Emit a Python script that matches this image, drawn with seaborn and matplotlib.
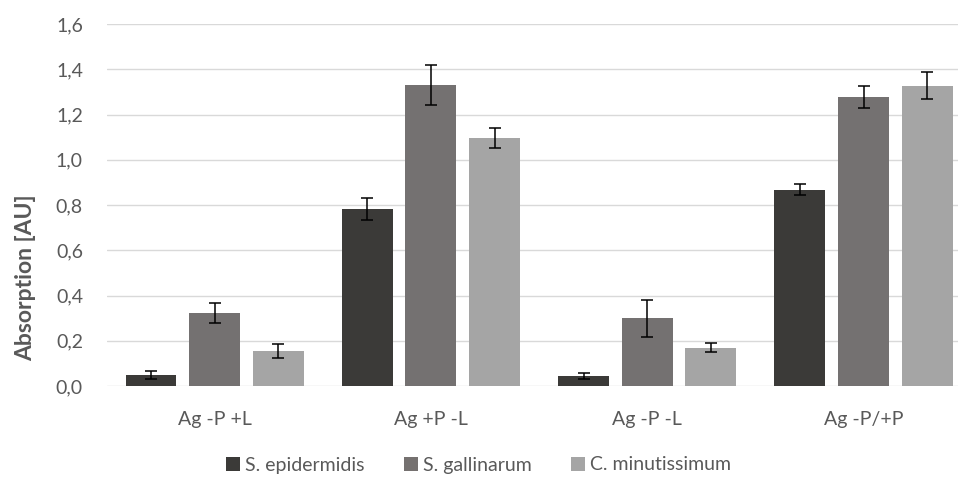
import matplotlib
matplotlib.use("Agg")
import matplotlib.pyplot as plt
from matplotlib.patches import Patch
import seaborn as sns
import pandas as pd
import numpy as np

# Conditions on the x axis
groups = ["Ag -P +L", "Ag +P -L", "Ag -P -L", "Ag -P/+P"]
species = ["S. epidermidis", "S. gallinarum", "C. minutissimum"]

# Mean absorption per strain and condition
epidermidis = [0.049, 0.782, 0.043, 0.868]
gallinarum = [0.323, 1.331, 0.299, 1.277]
minutissimum = [0.155, 1.096, 0.169, 1.328]

# Standard deviations
epidermidis_err = [0.017, 0.049, 0.014, 0.023]
gallinarum_err = [0.045, 0.087, 0.081, 0.049]
minutissimum_err = [0.030, 0.043, 0.019, 0.061]

yticks = [0.0, 0.2, 0.4, 0.6, 0.8, 1.0, 1.2, 1.4, 1.6]
colors = ["#3B3A38", "#757170", "#A5A5A5"]

means = [epidermidis, gallinarum, minutissimum]
errs = [epidermidis_err, gallinarum_err, minutissimum_err]

df = pd.DataFrame({
    "group": groups * 3,
    "species": np.repeat(species, len(groups)),
    "value": epidermidis + gallinarum + minutissimum,
})

sns.set_theme(style="white")
plt.rcParams["font.family"] = ["Lato", "DejaVu Sans"]

W, H = 958, 480
fig = plt.figure(figsize=(W / 100, H / 100), dpi=100)
left_px, top_px, bottom_px = 106.5, 24, 386
ax = fig.add_axes([left_px / W, (H - bottom_px) / H, 1 - left_px / W, (bottom_px - top_px) / H])

sns.barplot(data=df, x="group", y="value", hue="species", order=groups,
            hue_order=species, palette=colors, width=0.883, gap=0.2,
            errorbar=None, legend=False, ax=ax, zorder=3, linewidth=0)

for cont, e in zip(ax.containers, errs):
    xs = [b.get_x() + b.get_width() / 2 for b in cont]
    hs = [b.get_height() for b in cont]
    ax.errorbar(xs, hs, yerr=e, fmt="none", ecolor="#000000", elinewidth=1.1,
                capsize=4.4, capthick=1.1, zorder=4)

ax.set_ylim(0, 1.6)
ax.set_xlim(-0.5, -0.5 + (W - left_px) / 216.3)
ax.set_yticks(yticks)
ax.set_yticklabels([f"{t:.1f}".replace(".", ",") for t in yticks])
ax.yaxis.grid(True, color="#D9D9D9", linewidth=1.0, zorder=0)
ax.set_axisbelow(True)
for s in ax.spines.values():
    s.set_visible(False)
ax.tick_params(axis="both", length=0, labelsize=14, labelcolor="#595959")
ax.tick_params(axis="y", pad=17)
ax.tick_params(axis="x", pad=18)
ax.set_xlabel("")
ax.set_ylabel("")

fig.text(26 / W, (H - 278) / H, "Absorption [AU]", rotation=90, ha="center",
         va="center", fontsize=16.5, fontweight="bold", color="#595959")

handles = [Patch(facecolor=c, edgecolor="none") for c in colors]
fig.legend(handles, species, loc="center", bbox_to_anchor=(478.5 / W, (H - 465) / H),
           ncol=3, frameon=False, fontsize=14, labelcolor="#595959",
           handlelength=0.75, handleheight=0.75, handletextpad=0.25,
           columnspacing=2.0)

fig.savefig("out.png", dpi=100)
